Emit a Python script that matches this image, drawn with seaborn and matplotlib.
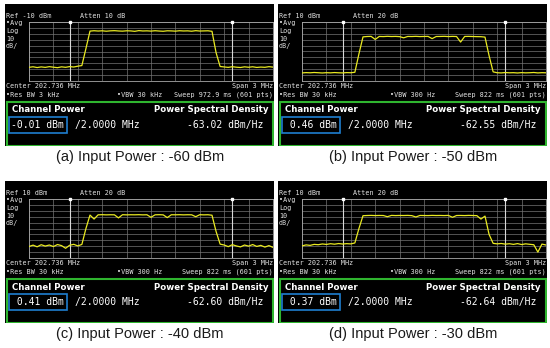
import numpy as np
import pandas as pd
import matplotlib
matplotlib.use('Agg')
import matplotlib.pyplot as plt
import seaborn as sns
from matplotlib.patches import Rectangle

# settings
panel_names = ['(a)', '(b)', '(c)', '(d)']
input_power = ['-60', '-50', '-40', '-30']
ref_level = [-10, 10, 10, 10]
atten = ['10', '20', '20', '20']
res_bw = ['3 kHz', '30 kHz', '30 kHz', '30 kHz']
vbw = ['30 kHz', '300 Hz', '300 Hz', '300 Hz']
sweep = ['972.9 ms', '822 ms', '822 ms', '822 ms']
channel_power = ['-0.01', ' 0.46', ' 0.41', ' 0.37']
psd = ['-63.02', '-62.55', '-62.60', '-62.64']

# traces in dBm, 61 points across the 3 MHz span
trace_a = [-86.8, -85.9, -87.2, -86.1, -86.9, -85.7, -86.6, -87.4, -86.0, -86.8, -85.6, -86.3, -84.9, -83.8,
           -55.0,
           -25.4, -24.8, -25.3, -24.9, -25.6, -25.0, -24.7, -25.2, -25.5, -24.9, -25.1, -25.8, -24.6, -25.2, -25.0,
           -25.4, -24.8, -25.3, -25.7, -24.9, -25.1, -25.5, -24.8, -25.2, -25.0, -25.6, -24.7, -25.3, -25.1, -24.9,
           -25.8, -62.0,
           -85.4, -86.2, -86.9, -85.8, -86.6, -87.1, -86.0, -86.7, -85.9, -87.0, -86.4, -86.8, -85.7, -86.5]
trace_b = [-76.3, -75.8, -76.1, -75.6, -76.0, -76.4, -75.9, -76.2, -75.7, -76.1, -76.3, -75.8, -76.0, -75.2,
           -44.0,
           -15.2, -14.6, -14.4, -19.5, -14.5, -14.7, -14.3, -14.6, -14.4, -14.8, -16.8, -14.5, -14.6, -14.3, -14.7,
           -14.5, -14.4, -18.2, -14.6, -14.5, -14.3, -14.7, -14.4, -14.6, -24.0, -14.5, -14.4, -14.6, -14.8, -14.9,
           -15.6, -47.0,
           -74.5, -76.0, -76.3, -75.7, -76.1, -75.9, -76.4, -75.8, -76.2, -76.0, -75.6, -76.3, -75.9, -76.1]
trace_c = [-70.5, -68.2, -71.0, -67.5, -69.8, -68.0, -70.6, -67.2, -69.0, -73.5, -68.4, -66.8, -69.5, -67.0,
           -40.0,
           -17.2, -24.0, -16.8, -16.6, -16.9, -16.7, -16.8, -22.0, -16.6, -16.9, -16.7, -16.8, -16.6, -16.9, -16.7,
           -21.0, -16.8, -16.6, -16.9, -21.5, -16.7, -16.8, -16.6, -16.9, -16.7, -16.8, -20.0, -16.6, -16.9, -16.7,
           -17.5, -45.0,
           -66.5, -68.0, -70.8, -67.4, -69.6, -71.2, -68.0, -69.9, -67.2, -70.4, -68.6, -71.5, -69.0, -72.0]
trace_d = [-69.5, -67.8, -68.6, -66.9, -67.5, -66.2, -67.0, -65.8, -66.6, -65.5, -66.3, -65.7, -66.1, -64.5,
           -40.0,
           -18.3, -18.0, -17.8, -18.1, -17.9, -18.0, -20.0, -17.8, -18.1, -17.9, -18.0, -17.8, -18.2, -20.5, -17.9,
           -18.0, -18.1, -17.8, -18.0, -17.9, -18.1, -17.8, -21.0, -18.0, -17.9, -18.1, -17.8, -18.0, -18.2, -24.0,
           -19.0, -50.0,
           -65.2, -66.0, -65.4, -66.5, -65.8, -66.9, -65.6, -67.2, -66.0, -66.8, -67.5, -80.0, -66.4, -68.0]
traces = [trace_a, trace_b, trace_c, trace_d]

W, H = 550, 348
fig = plt.figure(figsize=(5.5, 3.48), dpi=100)
fig.patch.set_facecolor('white')


def box(x0, y0, x1, y1):
    # pixel box (top-left origin) -> figure fraction
    return [x0 / W, 1 - y1 / H, (x1 - x0) / W, (y1 - y0) / H]


mono = 'DejaVu Sans Mono'
scr_txt = '#e4e4e4'
yellow = '#eaea22'
origins = [(5, 4), (278, 4), (5, 181), (278, 181)]

for i, (px, py) in enumerate(origins):
    pw = 269
    ov = fig.add_axes(box(px, py, px + pw, py + 142), zorder=1)
    ov.set_xlim(0, pw)
    ov.set_ylim(142, 0)
    ov.axis('off')
    ov.add_patch(Rectangle((0, 0), pw, 142, color='black', zorder=0))

    ref = ref_level[i]
    kw = dict(color=scr_txt, fontsize=4.9, family=mono, va='center')
    ov.text(1, 12, f'Ref {ref} dBm', **kw)
    ov.text(75, 12, f'Atten {atten[i]} dB', **kw)
    for lab, yy in zip(['\u2022Avg', 'Log', '10', 'dB/'], [19, 27, 35, 42]):
        ov.text(1, yy, lab, **kw)
    ov.text(1, 82, 'Center 202.736 MHz', **kw)
    ov.text(268, 82, 'Span 3 MHz', ha='right', **kw)
    ov.text(1, 91, f'\u2022Res BW {res_bw[i]}', **kw)
    ov.text(112, 91, f'\u2022VBW {vbw[i]}', **kw)
    ov.text(268, 91, f'Sweep {sweep[i]} (601 pts)', ha='right', **kw)

    # channel power readout
    ov.add_patch(Rectangle((1.5, 97.5), 266, 44, facecolor='black', edgecolor='#2fb52f', lw=1.5, zorder=3))
    ov.text(7, 106, 'Channel Power', color='white', fontsize=6.2, weight='bold', va='center', zorder=4)
    ov.text(263, 106, 'Power Spectral Density', color='white', fontsize=6.2, weight='bold',
            va='center', ha='right', zorder=4)
    ov.add_patch(Rectangle((4, 113), 58, 16, facecolor='none', edgecolor='#1f7fd0', lw=1.2, zorder=4))
    ov.text(6, 121, f'{channel_power[i]} dBm', color='white', fontsize=7, family=mono, va='center', zorder=5)
    ov.text(70, 121, '/2.0000 MHz', color='white', fontsize=7, family=mono, va='center', zorder=5)
    ov.text(258, 121, f'{psd[i]} dBm/Hz', color='white', fontsize=7, family=mono, va='center',
            ha='right', zorder=5)

    # trace graticule
    ax = fig.add_axes(box(px + 24, py + 18, px + 268, py + 77), zorder=2)
    ax.set_facecolor('black')
    df = pd.DataFrame({'offset': np.linspace(-1.5, 1.5, len(traces[i])), 'level': traces[i]})
    sns.lineplot(data=df, x='offset', y='level', ax=ax, color=yellow, lw=0.9, zorder=3)
    ax.set_xlim(-1.5, 1.5)
    ax.set_ylim(ref - 100, ref)
    ax.set_xticks(np.linspace(-1.5, 1.5, 11))
    ax.set_yticks(np.arange(ref - 100, ref + 1, 10))
    ax.set_xticklabels([])
    ax.set_yticklabels([])
    ax.tick_params(length=0)
    ax.set_xlabel('')
    ax.set_ylabel('')
    ax.grid(True, color='#747474', lw=0.5)
    for s in ax.spines.values():
        s.set_color('#a8a8a8')
        s.set_linewidth(0.6)
    for m in (-1, 1):
        ax.axvline(m, color='#d8d8d8', lw=0.8, zorder=2)
    ax.plot([-1, 1], [ref, ref], 's', ms=1.6, color='white', clip_on=False, zorder=4)

    fig.text((px + 135) / W, 1 - (py + 153) / H, f'{panel_names[i]} Input Power : {input_power[i]} dBm',
             ha='center', va='center', fontsize=10.5, family='Liberation Sans', color='#1a1a1a')

fig.savefig('out.png', dpi=100)
